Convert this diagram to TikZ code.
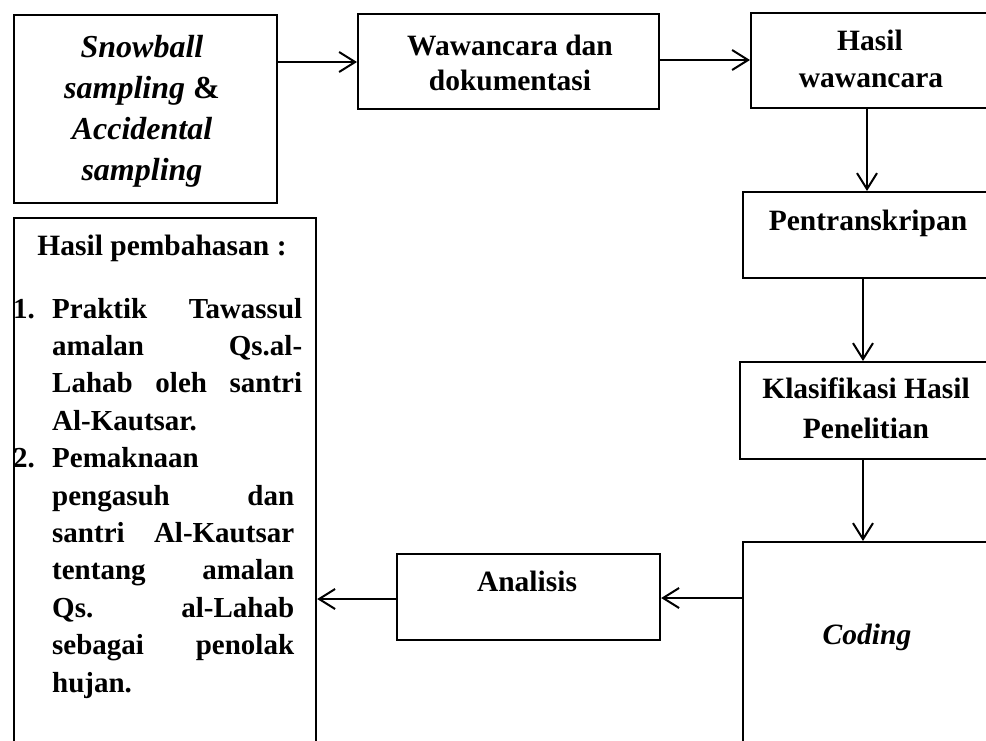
\documentclass[tikz,border=0pt]{standalone}
\usepackage{fontspec}
\setmainfont{Liberation Serif}
\usetikzlibrary{arrows.meta}
\tikzset{
  box/.style={draw, line width=2.2pt, rectangle, inner sep=0pt, anchor=north west},
  arr/.style={line width=2pt, -{Straight Barb[length=16pt,width=20pt,line width=2pt]}},
  lbl/.style={anchor=base, inner sep=0pt, font=\fontsize{29.5}{37}\selectfont\bfseries},
  lblit/.style={anchor=base, inner sep=0pt, font=\fontsize{29.5}{37}\selectfont\bfseries\itshape},
  sbit/.style={anchor=base, inner sep=0pt, font=\fontsize{32}{40}\selectfont\bfseries\itshape},
  lst/.style={anchor=base west, inner sep=0pt, font=\fontsize{29}{37}\selectfont\bfseries},
}
\begin{document}
\begin{tikzpicture}[x=1pt,y=-1pt]
\useasboundingbox (0,0) rectangle (986,740);
\clip (0,0) rectangle (986,740);
% boxes
\node[box, minimum width=263pt, minimum height=188pt] (sb) at (13,14) {};
\node[box, minimum width=301pt, minimum height=95pt] (ww) at (357,13) {};
\node[box, minimum width=242pt, minimum height=95pt] (hw) at (750,12) {};
\node[box, minimum width=252pt, minimum height=86pt] (tr) at (742,191) {};
\node[box, minimum width=255pt, minimum height=97pt] (kl) at (739,361) {};
\node[box, minimum width=252pt, minimum height=230pt] (cd) at (742,541) {};
\node[box, minimum width=263pt, minimum height=86pt] (an) at (396,553) {};
\node[box, minimum width=302pt, minimum height=560pt] (hp) at (13,217) {};
% texts
\node[sbit] (sb1) at (142,57) {Snowball};
\node[sbit] (sb2) at (142,98) {sampling \textup{\&}};
\node[sbit] (sb3) at (142,139) {Accidental};
\node[sbit] (sb4) at (142,180) {sampling};
\node[lbl] (ww1) at (510,55) {Wawancara dan};
\node[lbl] (ww2) at (510,90) {dokumentasi};
\node[lbl] (hw1) at (870,50) {Hasil};
\node[lbl] (hw2) at (871,87) {wawancara};
\node[lbl] (tr1) at (868,230) {Pentranskripan};
\node[lbl] (kl1) at (866,398) {Klasifikasi Hasil};
\node[lbl] (kl2) at (866,438) {Penelitian};
\node[lblit] (cd1) at (867,644) {Coding};
\node[lbl] (an1) at (527,591) {Analisis};
\node[lbl] (hp0) at (162,255) {Hasil pembahasan :};
\node[lst] (n1) at (13,318) {1.};
\node[lst] (l1) at (52,318) {\makebox[250pt][s]{Praktik Tawassul}};
\node[lst] (l2) at (52,355.4) {\makebox[250pt][s]{amalan Qs.al-}};
\node[lst] (l3) at (52,392.8) {\makebox[250pt][s]{Lahab oleh santri}};
\node[lst] (l4) at (52,430.2) {Al-Kautsar.};
\node[lst] (n2) at (13,467.6) {2.};
\node[lst] (l5) at (52,467.6) {Pemaknaan};
\node[lst] (l6) at (52,505) {\makebox[242pt][s]{pengasuh dan}};
\node[lst] (l7) at (52,542.4) {\makebox[242pt][s]{santri Al-Kautsar}};
\node[lst] (l8) at (52,579.8) {\makebox[242pt][s]{tentang amalan}};
\node[lst] (l9) at (52,617.2) {\makebox[242pt][s]{Qs. al-Lahab}};
\node[lst] (l10) at (52,654.6) {\makebox[242pt][s]{sebagai penolak}};
\node[lst] (l11) at (52,692) {hujan.};
% helper coordinates
\coordinate (y1) at (0,62);
\coordinate (y2) at (0,60);
\coordinate (y3) at (0,598);
\coordinate (y4) at (0,599);
\coordinate (x1) at (867,0);
\coordinate (x2) at (863,0);
% connectors
\draw[arr] (sb.east |- y1) -- (ww.west |- y1);
\draw[arr] (ww.east |- y2) -- (hw.west |- y2);
\draw[arr] (hw.south -| x1) -- (tr.north -| x1);
\draw[arr] (tr.south -| x2) -- (kl.north -| x2);
\draw[arr] (kl.south -| x2) -- (cd.north -| x2);
\draw[arr] (cd.west |- y3) -- (an.east |- y3);
\draw[arr] (an.west |- y4) -- (hp.east |- y4);
\end{tikzpicture}
\end{document}
